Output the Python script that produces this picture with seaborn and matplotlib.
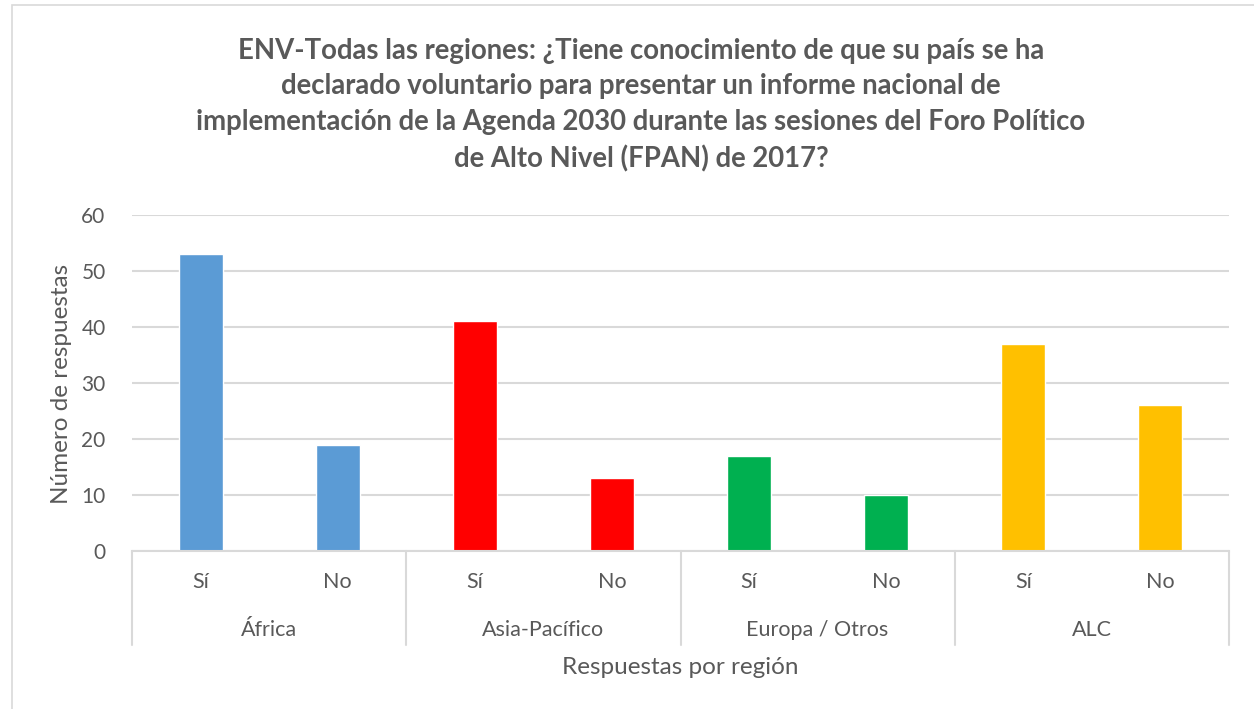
import matplotlib
matplotlib.use("Agg")
import matplotlib.pyplot as plt
import matplotlib.transforms as mtransforms
from matplotlib.patches import Rectangle
import seaborn as sns
import pandas as pd

regions = ["África", "Asia-Pacífico", "Europa / Otros", "ALC"]
answers = ["Sí", "No"]
values_si = [53, 41, 17, 37]
values_no = [19, 13, 10, 26]
region_colors = ["#5B9BD5", "#FF0000", "#00B050", "#FFC000"]

rows = []
for r, s, n in zip(regions, values_si, values_no):
    rows.append({"key": f"{r}|Sí", "region": r, "answer": "Sí", "value": s})
    rows.append({"key": f"{r}|No", "region": r, "answer": "No", "value": n})
df = pd.DataFrame(rows)
palette = {}
for r, c in zip(regions, region_colors):
    palette[f"{r}|Sí"] = c
    palette[f"{r}|No"] = c

sns.set_theme(style="white")
plt.rcParams["font.family"] = ["Lato", "DejaVu Sans"]
grey = "#595959"
lgrey = "#D9D9D9"

W, H = 1254, 709
fig = plt.figure(figsize=(W / 100, H / 100), dpi=100)
fig.patch.set_facecolor("white")
fig.add_artist(Rectangle((12 / W, -20 / H), (W + 10 - 12) / W, (709 + 20 - 5) / H,
                         transform=fig.transFigure, fill=False, edgecolor=lgrey, lw=1.2))

ax = fig.add_axes([132 / W, 1 - 551 / H, (1229 - 132) / W, (551 - 215) / H])
sns.barplot(data=df, x="key", y="value", hue="key", palette=palette,
            legend=False, width=0.32, ax=ax, saturation=1, order=list(df["key"]))
ax.set_xlim(-0.5, len(df) - 0.5)
ax.set_ylim(0, 60)
ax.set_yticks(range(0, 61, 10))
ax.yaxis.grid(True, color=lgrey, lw=1.5)
ax.set_axisbelow(True)
for s in ["top", "right", "left"]:
    ax.spines[s].set_visible(False)
ax.spines["bottom"].set_color(lgrey)
ax.spines["bottom"].set_linewidth(1.5)
ax.tick_params(axis="y", length=0, labelsize=15, labelcolor=grey, pad=19)
ax.set_xticks(range(len(df)))
ax.set_xticklabels([])
ax.tick_params(axis="x", length=0)
ax.set_xlabel("")
ax.set_ylabel("")

trans = mtransforms.blended_transform_factory(ax.transData, ax.transAxes)
axh = 551 - 215
for i, a in enumerate(df["answer"]):
    ax.text(i, -31 / axh, a, transform=trans, ha="center", va="center",
            fontsize=15.5, color=grey)
for g, r in enumerate(regions):
    ax.text(2 * g + 0.5, -79 / axh, r, transform=trans, ha="center", va="center",
            fontsize=15.5, color=grey)
for b in range(len(regions) + 1):
    ax.plot([2 * b - 0.5, 2 * b - 0.5], [0, -94 / axh], transform=trans,
            color=lgrey, lw=1.5, clip_on=False)

fig.text((132 + 1229) / 2 / W, 1 - 667 / H, "Respuestas por región", ha="center",
         va="center", fontsize=17.5, color=grey)
fig.text(62 / W, 1 - 384 / H, "Número de respuestas", ha="center", va="center",
         rotation=90, fontsize=17.5, color=grey)

title = ("ENV-Todas las regiones: ¿Tiene conocimiento de que su país se ha\n"
         "declarado voluntario para presentar un informe nacional de\n"
         "implementación de la Agenda 2030 durante las sesiones del Foro Político\n"
         "de Alto Nivel (FPAN) de 2017?")
fig.text(641 / W, 1 - 105 / H, title, ha="center", va="center", fontsize=19.8,
         fontweight="bold", color=grey, linespacing=1.45)

fig.savefig("out.png", dpi=100)
